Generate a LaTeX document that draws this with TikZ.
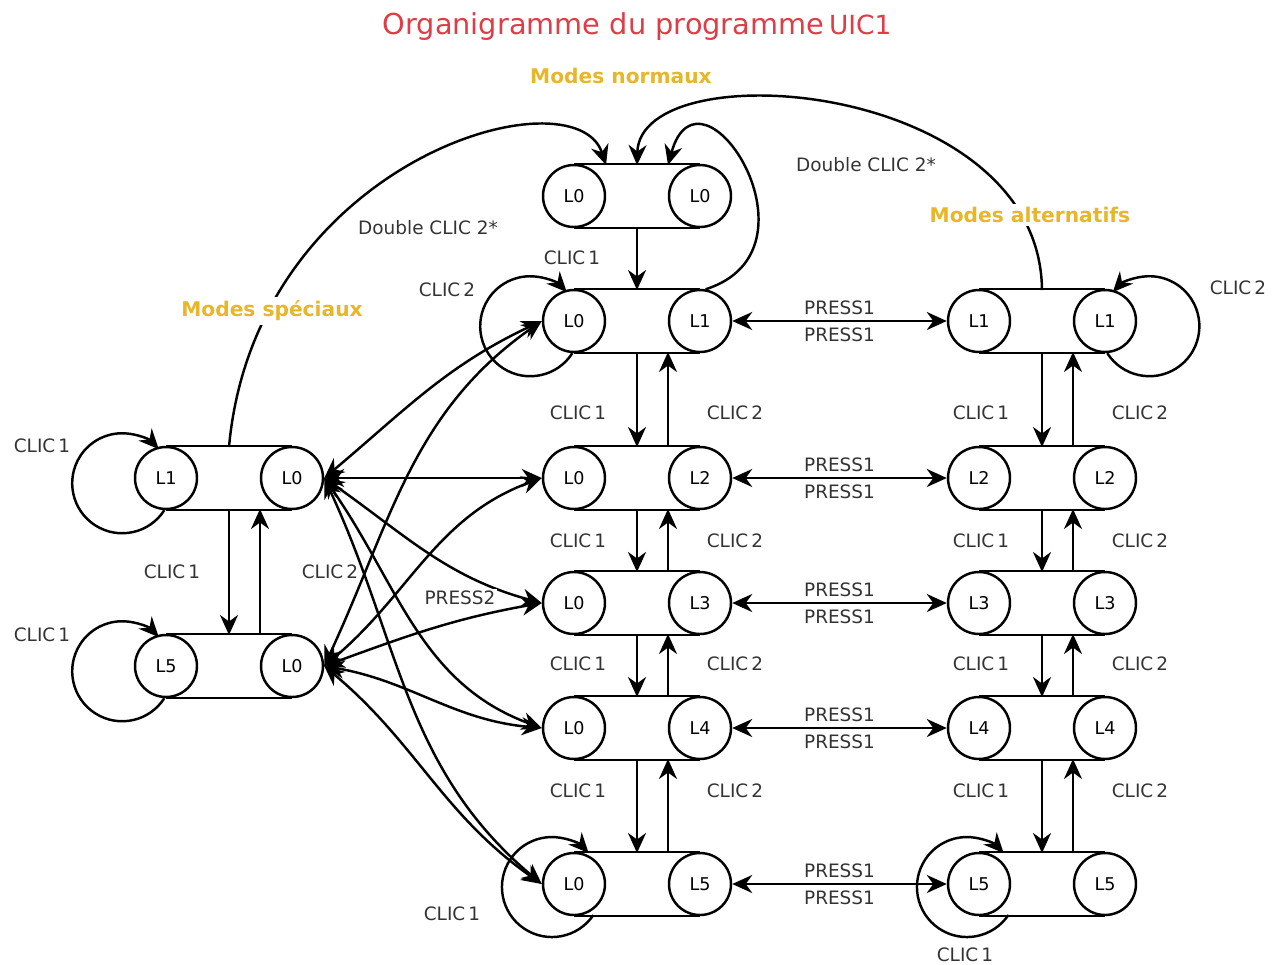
\documentclass[tikz,border=0pt]{standalone}
\usepackage{fontspec}
\setmainfont{DejaVu Sans}
\usepackage{tikz}
\usetikzlibrary{arrows.meta, calc}
\definecolor{Rouge}{HTML}{E03C46}
\definecolor{Ocre}{HTML}{E8B62A}
\definecolor{Texte}{HTML}{333333}

\newcommand{\pilule}[5]{%
  \node[etat] (#1g) at (#2-63,#3) {#4};
  \node[etat] (#1d) at (#2+63,#3) {#5};
  \draw (#1g.north) -- (#1d.north) (#1g.south) -- (#1d.south);
  \coordinate (#1h) at (#2,#3+31);
  \coordinate (#1b) at (#2,#3-31);
}

\begin{document}
\begin{tikzpicture}[x=0.02cm, y=0.02cm, line width=1.4pt,
            >={Stealth[length=4mm, width=3.6mm]},
            etat/.style={draw, circle, minimum size=1.24cm, inner sep=0pt,
                         font=\fontsize{10}{11}\selectfont},
            lbl/.style={font=\fontsize{10.5}{12}\selectfont, text=Texte, inner sep=1pt},
            titremode/.style={font=\fontsize{11.5}{13}\selectfont\bfseries, text=Ocre,
                              fill=white, inner sep=2pt}]
            \useasboundingbox (0,0) rectangle (1275,-964);

            \node[font=\fontsize{16.4}{18}\selectfont, text=Rouge] (titre) at (637,-27)
                {Organigramme du programme\,{\fontsize{15}{16}\selectfont UIC1}};

            \pilule{n0}{637}{-196}{L0}{L0}
            \foreach \i/\y in {1/-321, 2/-478, 3/-603, 4/-728, 5/-884} {
                \pilule{n\i}{637}{\y}{L0}{L\i}
                \pilule{a\i}{1042}{\y}{L\i}{L\i}
                \draw[<->] (n\i d) -- (a\i g)
                    node[lbl, midway, above=2pt] (pa\i) {PRESS1}
                    node[lbl, midway, below=2pt] (pb\i) {PRESS1};
            }
            \pilule{s1}{229}{-478}{L1}{L0}
            \pilule{s5}{229}{-666}{L5}{L0}

            \draw[->] (n0b) -- (n1h);
            \foreach \i [count=\j from 2] in {1,...,4} {
                \draw[->] (n\i b) -- (n\j h);
                \draw[->] ([xshift=0.62cm]n\j h) -- ([xshift=0.62cm]n\i b);
                \draw[->] (a\i b) -- (a\j h);
                \draw[->] ([xshift=0.62cm]a\j h) -- ([xshift=0.62cm]a\i b);
            }
            \draw[->] (s1b) -- (s5h);
            \draw[->] ([xshift=0.62cm]s5h) -- ([xshift=0.62cm]s1b);

            \foreach \y/\k in {-413/1, -541/2, -664/3, -791/4} {
                \node[lbl] (cn\k) at (578,\y) {CLIC\,1};
                \node[lbl] (dn\k) at (735,\y) {CLIC\,2};
                \node[lbl] (ca\k) at (981,\y) {CLIC\,1};
                \node[lbl] (da\k) at (1140,\y) {CLIC\,2};
            }
            \node[lbl] (cs) at (172,-572) {CLIC\,1};
            \node[lbl] (ds) at (330,-572) {CLIC\,2};
            \node[lbl] (cn0) at (572,-258) {CLIC\,1};

            \foreach \e in {n1g, s1g, s5g}
                \draw[->] (\e.-93.5) arc[start angle=-32.6, end angle=-317, radius=50];
            \draw[->] (a1d.-86.5) arc[start angle=212.6, end angle=497, radius=50];
            \draw[->] ($(n5g)+(19.4,-31)$) arc[start angle=-34, end angle=-317.2, radius=50];
            \draw[->] ($(a5g)+(29.4,-31)$) arc[start angle=-34, end angle=-317.2, radius=50];
            \node[lbl] (bn1) at (447,-290) {CLIC\,2};
            \node[lbl] (bs1) at (42,-446) {CLIC\,1};
            \node[lbl] (bs5) at (42,-635) {CLIC\,1};
            \node[lbl] (bn5) at (452,-914) {CLIC\,1};
            \node[lbl] (ba1) at (1238,-288) {CLIC\,2};
            \node[lbl] (ba5) at (965,-955) {CLIC\,1};

            \draw[->] (s1h) .. controls (255,-160) and (575,-70) .. ([xshift=-0.62cm]n0h);
            \draw[->] (a1h) .. controls (1040,-80) and (640,-50) .. (n0h);
            \draw[->] (n1d.80) .. controls (830,-250) and (700,-50) .. ([xshift=0.62cm]n0h);
            \node[lbl] (dc1) at (428,-228) {Double CLIC 2*};
            \node[lbl] (dc2) at (866,-165) {Double CLIC 2*};

            \draw[<->] (s1d.east) to[out=40, in=205] (n1g.west);
            \draw[<->] (s1d.east) -- (n2g.west);
            \draw[<->] (s1d.east) to[out=-35, in=165] (n3g.west);
            \draw[<->] (s1d.east) to[out=-55, in=160] (n4g.west);
            \draw[<->] (s1d.east) to[out=-65, in=140] (n5g.west);
            \draw[<->] (s5d.east) to[out=65, in=215] (n1g.west);
            \draw[<->] (s5d.east) to[out=40, in=200] (n2g.west);
            \draw[<->] (s5d.east) to[out=20, in=190] (n3g.west);
            \draw[<->] (s5d.east) to[out=-10, in=175] (n4g.west);
            \draw[<->] (s5d.east) to[out=-40, in=145] (n5g.west);
            \node[lbl, fill=white] (press2) at (460,-598) {PRESS2};

            \node[titremode] (normaux) at (621,-76) {Modes normaux};
            \node[titremode] (speciaux) at (272,-311) {Modes spéciaux};
            \node[titremode] (alternatifs) at (1030,-215) {Modes alternatifs};
\end{tikzpicture}
\end{document}
